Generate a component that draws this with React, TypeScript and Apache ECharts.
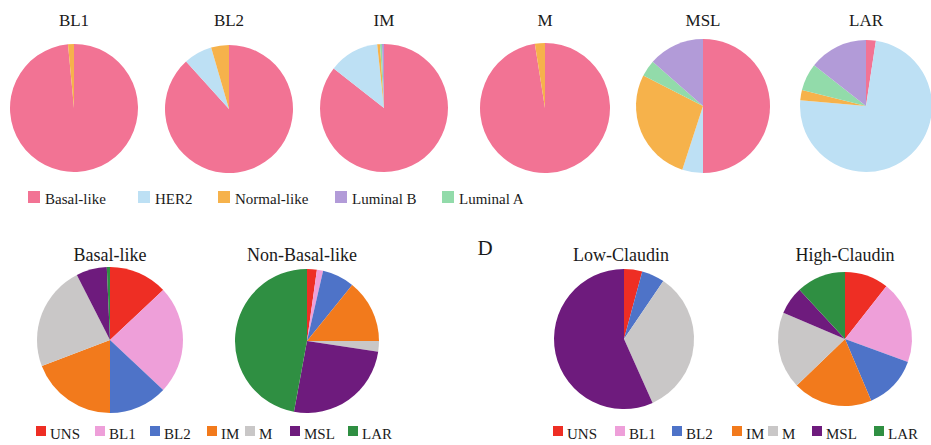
import React, { useEffect, useRef } from "react";
import * as echarts from "echarts";

// ---- Top row: intrinsic subtypes within each TNBC subtype (%) ----
const topSubtypes = ["Basal-like", "HER2", "Normal-like", "Luminal A", "Luminal B"];
const topLegendOrder = ["Basal-like", "HER2", "Normal-like", "Luminal B", "Luminal A"];
const topColors = ["#F27394", "#BDE0F4", "#F6B24B", "#92DBAA", "#B29BD8"];
const topTitles = ["BL1", "BL2", "IM", "M", "MSL", "LAR"];
const valuesBL1 = [98.5, 0, 1.5, 0, 0];
const valuesBL2 = [88.3, 7.2, 4.5, 0, 0];
const valuesIM = [85.6, 12.7, 0.7, 0.5, 0.5];
const valuesM = [97.5, 0, 2.5, 0, 0];
const valuesMSL = [50, 5, 27.5, 4, 13.5];
const valuesLAR = [2.4, 74, 2.5, 6.7, 14.4];
const topValues = [valuesBL1, valuesBL2, valuesIM, valuesM, valuesMSL, valuesLAR];

// ---- Bottom row: TNBC subtypes within groups (%) ----
const bottomSubtypes = ["UNS", "BL1", "BL2", "IM", "M", "MSL", "LAR"];
const bottomColors = ["#EE2E24", "#EE9FD9", "#4E73C8", "#F27A1C", "#C9C7C7", "#6E1B7D", "#2F8F42"];
const bottomTitles = ["Basal-like", "Non-Basal-like", "Low-Claudin", "High-Claudin"];
const valuesBasalLike = [13, 24, 13, 19.2, 23.3, 6.8, 0.7];
const valuesNonBasalLike = [2.2, 1.4, 7.2, 14.2, 2.4, 25.5, 47.1];
const valuesLowClaudin = [4.2, 0, 5.3, 0, 33.8, 56.7, 0];
const valuesHighClaudin = [10.6, 20, 13, 19.2, 18.6, 6.7, 11.9];
const bottomValues = [valuesBasalLike, valuesNonBasalLike, valuesLowClaudin, valuesHighClaudin];
const panelLabel = "D";

// ---- Layout ----
const W = 931;
const H = 445;
const FONT = "Liberation Serif";
const topCenters = [[74, 108], [229, 109], [384, 108], [545, 108], [703, 106], [866, 106]];
const topRadii = [64, 64, 64, 65, 67, 66];
const topTitleY = 20;
const bottomCenters = [[110, 340], [307, 341], [624, 339], [845, 339]];
const bottomRadii = [73, 72, 70, 67];
const bottomTitleX = [110, 302, 621, 845];
const bottomTitleY = 255;
const topLegendLefts = [28, 138, 218, 335, 442];
const topLegendY = 199;
const bottomLegendLeftsA = [36, 95, 150, 207, 245, 290, 348];
const bottomLegendLeftsB = [553, 615, 672, 732, 768, 812, 874];
const bottomLegendY = 434;

function pieSeries(names: string[], colors: string[], vals: number[], center: number[], r: number) {
  return {
    type: "pie",
    center,
    radius: r,
    startAngle: 90,
    clockwise: true,
    silent: true,
    label: { show: false },
    labelLine: { show: false },
    itemStyle: { borderWidth: 0 },
    emphasis: { disabled: true },
    data: names.map((n, i) => ({ name: n, value: vals[i], itemStyle: { color: colors[i] } })),
  };
}

// legend swatch (colour taken from the series data); its label is drawn as a text element
function legendItem(name: string, left: number, cy: number, size: number) {
  return {
    data: [name],
    left,
    top: cy - 8,
    padding: 0,
    itemGap: 0,
    itemWidth: size,
    itemHeight: size,
    icon: "rect",
    selectedMode: false,
    formatter: () => "",
    textStyle: { fontSize: 15 },
  };
}

function label(text: string, x: number, y: number, size: number, align: string) {
  return {
    type: "text",
    x,
    y,
    silent: true,
    style: {
      text,
      font: size + 'px "Liberation Serif", "Times New Roman", serif',
      fontFamily: FONT,
      fontSize: size,
      fill: "#1a1a1a",
      textAlign: align,
      textVerticalAlign: "middle",
    },
  };
}

export default function App() {
  const ref = useRef<HTMLDivElement>(null);
  useEffect(() => {
    if (!ref.current) return;
    const chart = echarts.init(ref.current, undefined, { renderer: "svg" });
    const series: any[] = [];
    topValues.forEach((v, i) => series.push(pieSeries(topSubtypes, topColors, v, topCenters[i], topRadii[i])));
    bottomValues.forEach((v, i) =>
      series.push(pieSeries(bottomSubtypes, bottomColors, v, bottomCenters[i], bottomRadii[i]))
    );
    const legends: any[] = [];
    const texts: any[] = [];
    topLegendOrder.forEach((n, i) => {
      legends.push(legendItem(n, topLegendLefts[i], topLegendY, 12));
      texts.push(label(n, topLegendLefts[i] + 17, topLegendY, 15, "left"));
    });
    bottomSubtypes.forEach((n, i) => {
      legends.push(legendItem(n, bottomLegendLeftsA[i], bottomLegendY, 10));
      texts.push(label(n, bottomLegendLeftsA[i] + 14, bottomLegendY, 15, "left"));
    });
    bottomSubtypes.forEach((n, i) => {
      legends.push(legendItem(n, bottomLegendLeftsB[i], bottomLegendY, 10));
      texts.push(label(n, bottomLegendLeftsB[i] + 14, bottomLegendY, 15, "left"));
    });
    topTitles.forEach((t, i) => texts.push(label(t, topCenters[i][0], topTitleY, 17, "center")));
    bottomTitles.forEach((t, i) => texts.push(label(t, bottomTitleX[i], bottomTitleY, 18, "center")));
    texts.push(label(panelLabel, 485, 248, 21, "center"));
    chart.setOption({
      animation: false,
      backgroundColor: "#ffffff",
      legend: legends,
      graphic: texts,
      series,
    });
    return () => chart.dispose();
  }, []);
  return <div ref={ref} style={{ position: "fixed", left: 0, top: 0, width: W, height: H }} />;
}
